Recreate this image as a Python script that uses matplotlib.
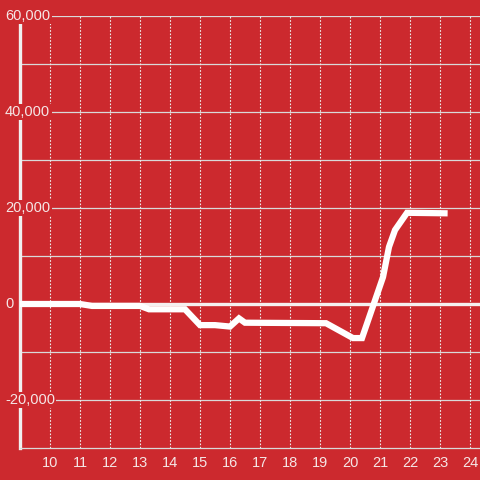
import matplotlib
matplotlib.use("Agg")
import matplotlib.pyplot as plt

# values
hours = [9.0, 11.0, 11.4, 13.0, 13.3, 14.5, 15.0, 15.5, 16.0, 16.3, 16.5,
         19.2, 20.1, 20.4, 21.1, 21.3, 21.5, 21.9, 23.15]
values = [0, 0, -400, -400, -1100, -1100, -4400, -4400, -4700, -3000, -3900,
          -4000, -7100, -7100, 5600, 11900, 15400, 19000, 18900]

x_ticks = list(range(10, 25))
y_ticks = [-20000, 0, 20000, 40000, 60000]
y_grid = list(range(-20000, 60001, 10000))

bg = '#cc292e'
plt.rcParams['font.family'] = ['Liberation Sans', 'DejaVu Sans']

fig = plt.figure(figsize=(4.8, 4.8), dpi=100, facecolor=bg)
ax = fig.add_axes([20/480, 32/480, 460/480, 432/480])
ax.set_facecolor(bg)
ax.set_xlim(9, 24.333)
ax.set_ylim(-30000, 60000)

for y in y_grid:
    ax.axhline(y, color='#d9d9d9', lw=0.9, zorder=1)
for x in x_ticks:
    ax.axvline(x, color='#eeeeee', lw=0.8, dashes=(1.5, 1.5), zorder=1)
ax.axhline(0, color='#f5f0f0', lw=2.4, zorder=2)

ax.plot(hours, values, color='white', lw=4.5, solid_joinstyle='miter', zorder=3)

for s in ['top', 'right']:
    ax.spines[s].set_visible(False)
ax.spines['left'].set_color('#f0f0f0')
ax.spines['left'].set_linewidth(2.4)
ax.spines['bottom'].set_color('#d9d9d9')
ax.spines['bottom'].set_linewidth(0.9)

ax.set_xticks(x_ticks)
ax.set_xticklabels([str(t) for t in x_ticks])
ax.tick_params(axis='x', length=0, pad=6, labelsize=10.5, colors='#f5e6e6')
ax.set_yticks([])

for y in y_ticks:
    ax.text(-15/460, y, f'{y:,}', transform=ax.get_yaxis_transform(),
            ha='left', va='center', fontsize=10.5, color='#f5e6e6', zorder=5,
            bbox=dict(facecolor=bg, edgecolor='none', pad=1.0), clip_on=False)

plt.savefig('out.png', dpi=100, facecolor=bg)
